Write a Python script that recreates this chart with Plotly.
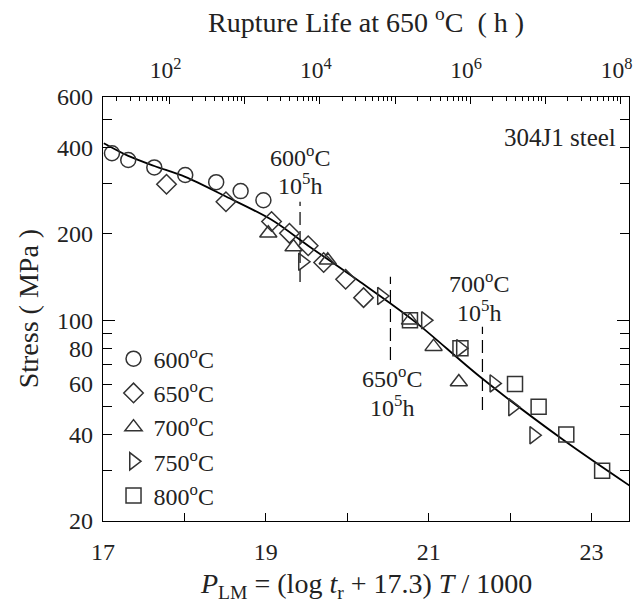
import math
import plotly.graph_objects as go

# ---- data -------------------------------------------------------------
T_650 = 923.15            # K, temperature used for the top (rupture-life) axis
PLM_RANGE = [17.0, 23.46]
STRESS_RANGE = [20, 600]

# master curve (Larson-Miller parameter vs stress)
curve_plm = [17.01, 17.31, 17.63, 18.01, 18.51, 19.07, 19.52, 20.16, 20.83, 21.63, 22.655, 23.49]
curve_stress = [414, 374, 345, 316, 270, 224, 182, 136, 99, 63.6, 38.3, 26.3]

# creep rupture data by test temperature
plm_600 = [17.11, 17.31, 17.63, 18.01, 18.39, 18.69, 18.97]
stress_600 = [382, 362, 341, 321, 303, 282, 262]

plm_650 = [17.78, 18.51, 19.07, 19.29, 19.52, 19.71, 19.98, 20.20]
stress_650 = [298, 259, 221, 201, 182, 159, 139, 120]

plm_700 = [19.03, 19.34, 19.76, 20.77, 21.06, 21.37]
stress_700 = [201, 180, 162, 100, 81, 61]

plm_750 = [19.45, 20.42, 20.96, 21.39, 21.80, 22.03, 22.29]
stress_750 = [160, 121.6, 100, 80, 60.3, 49.8, 39.8]

plm_800 = [20.77, 21.39, 22.06, 22.35, 22.69, 23.13]
stress_800 = [100, 80, 60, 50, 40, 29.9]

# 1e5 h reference marks at 600, 650 and 700 C
ref_plm = [19.42, 20.53, 21.66]
ref_low = [136, 72.7, 48.7]
ref_high = [259, 142, 95]

# tick labels
x_tickvals = [17, 18, 19, 20, 21, 22, 23]
x_ticktext = ["17", "", "19", "", "21", "", "23"]
y_tickvals = [20, 30, 40, 50, 60, 70, 80, 90, 100, 200, 300, 400, 500, 600]
y_ticktext = ["20", "", "40", "", "60", "", "80", "", "100", "200", "", "400", "", "600"]
life_decades = [1, 2, 3, 4, 5, 6, 7, 8]
life_ticktext = ["", "10<sup>2</sup>", "", "10<sup>4</sup>", "", "10<sup>6</sup>", "", "10<sup>8</sup>"]

# ---- figure -----------------------------------------------------------
FONT = "Liberation Serif"
INK = "#222222"
MK = "#333333"

fig = go.Figure()

fig.add_trace(go.Scatter(x=curve_plm, y=curve_stress, mode="lines",
                         line=dict(color="black", width=1.8, shape="spline", smoothing=0.9),
                         showlegend=False, hoverinfo="skip"))

for xv, lo, hi in zip(ref_plm, ref_low, ref_high):
    fig.add_trace(go.Scatter(x=[xv, xv], y=[lo, hi], mode="lines",
                             line=dict(color="black", width=1.2, dash="13px,6px"),
                             showlegend=False, hoverinfo="skip"))

series = [
    ("600<sup>o</sup>C", plm_600, stress_600, "circle-open", 15),
    ("650<sup>o</sup>C", plm_650, stress_650, "diamond-open", 15),
    ("700<sup>o</sup>C", plm_700, stress_700, "triangle-up-open", 15),
    ("750<sup>o</sup>C", plm_750, stress_750, "triangle-right-open", 15),
    ("800<sup>o</sup>C", plm_800, stress_800, "square-open", 15),
]
for i, (name, xs, ys, sym, sz) in enumerate(series):
    fig.add_trace(go.Scatter(x=xs, y=ys, mode="markers", name=name,
                             legendgroup=f"g{i}",
                             marker=dict(symbol=sym, size=sz, color=MK,
                                         line=dict(width=1.5, color=MK))))

# placeholder traces so the overlay axes get drawn
fig.add_trace(go.Scatter(x=[], y=[], xaxis="x2", yaxis="y", showlegend=False, hoverinfo="skip"))
fig.add_trace(go.Scatter(x=[], y=[], xaxis="x3", yaxis="y", showlegend=False, hoverinfo="skip"))
fig.add_trace(go.Scatter(x=[], y=[], xaxis="x", yaxis="y2", showlegend=False, hoverinfo="skip"))

# top axis: rupture life at 650 C, log10(t) = PLM*1000/T - 17.3
life_range = [p * 1000.0 / T_650 - 17.3 for p in PLM_RANGE]
life_major = [10.0 ** d for d in life_decades]
life_minor = [k * 10.0 ** d for d in range(1, 9) for k in range(2, 10)]
stress_log_range = [math.log10(v) for v in STRESS_RANGE]

tickfont = dict(family=FONT, size=24, color=INK)

fig.update_layout(
    width=634, height=608,
    margin=dict(l=103, r=5, t=97, b=87, autoexpand=False),
    paper_bgcolor="white", plot_bgcolor="white",
    font=dict(family=FONT, size=24, color=INK),
    xaxis=dict(range=PLM_RANGE, tickvals=x_tickvals, ticktext=x_ticktext,
               ticks="inside", ticklen=8, tickwidth=1.3, tickcolor="black",
               showline=True, linecolor="black", linewidth=1.3, mirror=False,
               showgrid=False, zeroline=False, tickfont=tickfont,
               ticklabelstandoff=9, automargin=False),
    xaxis2=dict(type="log", overlaying="x", side="top", anchor="y", range=life_range,
                tickvals=life_major, ticktext=life_ticktext,
                ticks="inside", ticklen=7, tickwidth=1.2, tickcolor="black",
                showline=True, linecolor="black", linewidth=1.3,
                showgrid=False, zeroline=False,
                tickfont=dict(family=FONT, size=23.5, color=INK),
                ticklabelstandoff=8, ticklabelshift=-4,
                ticklabeloverflow="allow", automargin=False),
    xaxis3=dict(type="log", overlaying="x", side="top", anchor="y", range=life_range,
                tickvals=life_minor, showticklabels=False,
                ticks="inside", ticklen=3.5, tickwidth=1, tickcolor="black",
                showline=False, showgrid=False, zeroline=False, automargin=False),
    yaxis=dict(type="log", range=stress_log_range,
               tickvals=y_tickvals, ticktext=y_ticktext,
               ticks="inside", ticklen=9, tickwidth=1.3, tickcolor="black",
               showline=True, linecolor="black", linewidth=1.3, mirror="ticks",
               showgrid=False, zeroline=False, tickfont=tickfont,
               ticklabelstandoff=4, automargin=False),
    yaxis2=dict(type="log", overlaying="y", anchor="x", range=stress_log_range,
                tickvals=[100], showticklabels=False,
                ticks="inside", ticklen=12, tickwidth=1.3, tickcolor="black",
                showline=False, mirror="ticks", showgrid=False, zeroline=False,
                automargin=False),
    legend=dict(x=0.02, y=0.008, xanchor="left", yanchor="bottom",
                bgcolor="rgba(0,0,0,0)", tracegroupgap=0,
                font=dict(family=FONT, size=24, color=INK)),
    showlegend=True,
)

# axis titles and labels
fig.add_annotation(text="Rupture Life at 650 <sup>o</sup>C  ( h )", xref="paper", yref="paper",
                   x=0.5, y=1.18, showarrow=False, xanchor="center", yanchor="middle",
                   font=dict(family=FONT, size=28, color=INK))
fig.add_annotation(text="<i>P</i><sub>LM</sub> = (log <i>t</i><sub>r</sub> + 17.3) <i>T</i> / 1000",
                   xref="paper", yref="paper", x=0.5, y=-0.152, showarrow=False,
                   xanchor="center", yanchor="middle",
                   font=dict(family=FONT, size=28, color=INK))
fig.add_annotation(text="Stress ( MPa )", xref="paper", yref="paper", x=-0.142, y=0.5,
                   textangle=-90, showarrow=False, xanchor="center", yanchor="middle",
                   font=dict(family=FONT, size=28, color=INK))
fig.add_annotation(text="304J1 steel", xref="paper", yref="paper", x=0.98, y=0.905,
                   showarrow=False, xanchor="right", yanchor="middle",
                   font=dict(family=FONT, size=25, color=INK))

ann_font = dict(family=FONT, size=24, color=INK)
ref_labels = [
    ("600<sup>o</sup>C", "10<sup>5</sup>h", 19.42, 2.572, 2.475),
    ("650<sup>o</sup>C", "10<sup>5</sup>h", 20.55, 1.801, 1.702),
    ("700<sup>o</sup>C", "10<sup>5</sup>h", 21.62, 2.132, 2.033),
]
for top, bot, xv, y1, y2 in ref_labels:
    fig.add_annotation(text=top, x=xv, y=y1, xref="x", yref="y", showarrow=False,
                       xanchor="center", yanchor="middle", font=ann_font)
    fig.add_annotation(text=bot, x=xv, y=y2, xref="x", yref="y", showarrow=False,
                       xanchor="center", yanchor="middle", font=ann_font)

fig.write_html("out.html")
